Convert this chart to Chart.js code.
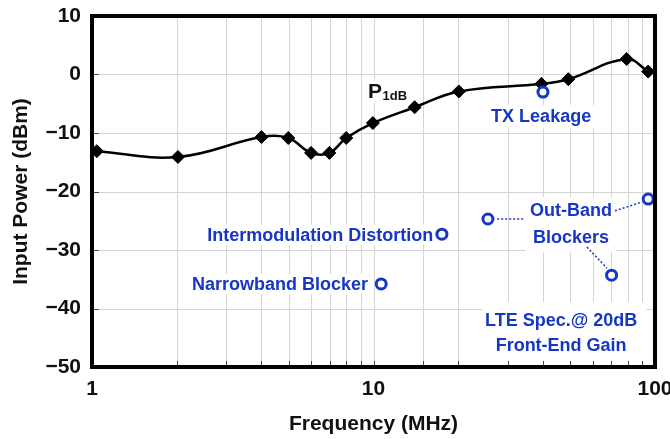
<!DOCTYPE html>
<html>
<head>
<meta charset="utf-8">
<script src="https://cdn.jsdelivr.net/npm/chart.js@4/dist/chart.umd.min.js"></script>
<style>
  html, body { margin: 0; padding: 0; background: #fff; }
  #wrap { width: 670px; height: 439px; }
</style>
</head>
<body>
<div id="wrap"><canvas id="chart" width="670" height="439"></canvas></div>
<script>
// Measured P1dB: frequency (MHz) and input power (dBm)
const p1dbFreq  = [1.04, 2.02, 4.0, 4.98, 6.0, 6.97, 8.0, 9.95, 14.0, 20.1, 39.5, 49.2, 79.3, 94.6];
const p1dbPower = [-13.1, -14.1, -10.7, -10.85, -13.4, -13.4, -10.85, -8.3, -5.6, -2.9, -1.6, -0.8, 2.65, 0.5];

// LTE requirements referred to the input (20 dB front-end gain)
const specNames = ['TX Leakage', 'Intermodulation Distortion', 'Narrowband Blocker',
                   'Out-Band Blocker A', 'Out-Band Blocker B', 'Out-Band Blocker C'];
const specFreq  = [40, 17.5, 10.65, 25.5, 94.6, 70.1];
const specPower = [-3.0, -27.3, -35.8, -24.7, -21.3, -34.3];

// Axis ticks
const xTickLabels = ['1', '10', '100'];
const yTickValues = [-50, -40, -30, -20, -10, 0, 10];

const BLUE = '#1636c4';
const FONT = '"Liberation Sans", Arial, Helvetica, sans-serif';
const GRID = '#d4d4d4';

// Text callouts, anchored in data units (frequency, power)
const callouts = [
  { lines: ['TX Leakage'], x: 39.4, y: -7.1, align: 'center', gap: 0, pad: [4, 4, 11, 12] },
  { lines: ['Intermodulation Distortion'], x: 16.3, y: -27.4, align: 'right', gap: 0, pad: [3, 3, 10, 10] },
  { lines: ['Narrowband Blocker'], x: 9.56, y: -35.8, align: 'right', gap: 0, pad: [3, 3, 10, 10] },
  { lines: ['Out-Band', 'Blockers'], x: 50.3, y: -23.2, align: 'center', gap: 27, pad: [4, 4, 13, 15] },
  { lines: ['LTE Spec.@ 20dB', 'Front-End Gain'], x: 46.4, y: -41.97, align: 'center', gap: 25, pad: [3, 9, 18, 19] }
];

// Dotted leaders from the out-band blocker points to their label
const leaders = [
  [[27.5, -24.7], [34.0, -24.7]],
  [[72.1, -23.3], [89.9, -21.8]],
  [[57.3, -29.5], [67.5, -33.1]]
];

// Plot frame taken from the scales themselves
function plotBox(chart) {
  const xs = chart.scales.x, ys = chart.scales.y;
  return {
    left: xs.getPixelForValue(xs.min),
    right: xs.getPixelForValue(xs.max),
    top: ys.getPixelForValue(ys.max),
    bottom: ys.getPixelForValue(ys.min)
  };
}

const annotationPlugin = {
  id: 'annotations',
  beforeDatasetsDraw(chart) {
    const { ctx } = chart;
    const xs = chart.scales.x, ys = chart.scales.y;
    const b = plotBox(chart);
    ctx.save();

    // grid
    ctx.strokeStyle = GRID;
    ctx.lineWidth = 1;
    xs.ticks.forEach(t => {
      const p = Math.round(xs.getPixelForValue(t.value)) + 0.5;
      ctx.beginPath(); ctx.moveTo(p, b.top); ctx.lineTo(p, b.bottom); ctx.stroke();
    });
    yTickValues.forEach(v => {
      const p = Math.round(ys.getPixelForValue(v)) + 0.5;
      ctx.beginPath(); ctx.moveTo(b.left, p); ctx.lineTo(b.right, p); ctx.stroke();
    });

    // callout texts on white
    ctx.font = 'bold 18px ' + FONT;
    ctx.textBaseline = 'middle';
    callouts.forEach(c => {
      const px = xs.getPixelForValue(c.x);
      const py = ys.getPixelForValue(c.y);
      const w = Math.max(...c.lines.map(t => ctx.measureText(t).width));
      let left;
      if (c.align === 'center') left = px - w / 2;
      else if (c.align === 'right') left = px - w;
      else left = px;
      const [pl, pr, pt, pb] = c.pad;
      const top = py - pt;
      const bottom = py + c.gap * (c.lines.length - 1) + pb;
      ctx.fillStyle = '#fff';
      ctx.fillRect(left - pl, top, w + pl + pr, bottom - top);
      ctx.fillStyle = BLUE;
      ctx.textAlign = c.align;
      c.lines.forEach((t, i) => ctx.fillText(t, px, py + 1 + i * c.gap));
    });

    // dotted leaders
    ctx.strokeStyle = BLUE;
    ctx.lineWidth = 1.5;
    ctx.setLineDash([2, 2]);
    leaders.forEach(([p, q]) => {
      ctx.beginPath();
      ctx.moveTo(xs.getPixelForValue(p[0]), ys.getPixelForValue(p[1]));
      ctx.lineTo(xs.getPixelForValue(q[0]), ys.getPixelForValue(q[1]));
      ctx.stroke();
    });
    ctx.setLineDash([]);

    // P1dB label with subscript
    const lx = xs.getPixelForValue(9.56);
    const ly = ys.getPixelForValue(-4.0);
    ctx.textAlign = 'left';
    ctx.textBaseline = 'alphabetic';
    ctx.font = 'bold 21px ' + FONT;
    const pw = ctx.measureText('P').width;
    ctx.font = 'bold 13px ' + FONT;
    const sw = ctx.measureText('1dB').width;
    ctx.fillStyle = '#fff';
    ctx.fillRect(lx - 2, ly - 17, pw + sw + 5, 22);
    ctx.fillStyle = '#111';
    ctx.font = 'bold 21px ' + FONT;
    ctx.fillText('P', lx, ly);
    ctx.font = 'bold 13px ' + FONT;
    ctx.fillText('1dB', lx + pw + 0.5, ly + 2);
    ctx.restore();
  },
  afterDraw(chart) {
    const { ctx } = chart;
    const xs = chart.scales.x, ys = chart.scales.y;
    const b = plotBox(chart);
    ctx.save();
    // short inward ticks
    ctx.strokeStyle = '#444';
    ctx.lineWidth = 1;
    xs.ticks.forEach(t => {
      const p = Math.round(xs.getPixelForValue(t.value)) + 0.5;
      if (p < b.left + 4 || p > b.right - 4) return;
      ctx.beginPath(); ctx.moveTo(p, b.bottom - 2); ctx.lineTo(p, b.bottom - 6); ctx.stroke();
    });
    yTickValues.forEach(v => {
      const p = Math.round(ys.getPixelForValue(v)) + 0.5;
      if (p < b.top + 4 || p > b.bottom - 4) return;
      ctx.beginPath(); ctx.moveTo(b.left + 2, p); ctx.lineTo(b.left + 7, p); ctx.stroke();
    });
    // heavy frame
    ctx.strokeStyle = '#000';
    ctx.lineWidth = 4;
    ctx.strokeRect(b.left, b.top, b.right - b.left, b.bottom - b.top);
    ctx.restore();
  }
};

new Chart(document.getElementById('chart'), {
  type: 'line',
  data: {
    datasets: [
      {
        label: 'LTE spec',
        data: specFreq.map((f, i) => ({ x: f, y: specPower[i], name: specNames[i] })),
        showLine: false,
        pointStyle: 'circle',
        pointRadius: 5,
        pointBorderWidth: 3,
        pointBorderColor: BLUE,
        pointBackgroundColor: '#fff',
        order: 0
      },
      {
        label: 'P1dB',
        data: p1dbFreq.map((f, i) => ({ x: f, y: p1dbPower[i] })),
        borderColor: '#000',
        borderWidth: 2.5,
        tension: 0.4,
        pointStyle: 'rectRot',
        pointRadius: 6.5,
        pointBorderWidth: 1,
        pointBorderColor: '#000',
        pointBackgroundColor: '#000',
        order: 1
      }
    ]
  },
  options: {
    responsive: false,
    animation: false,
    devicePixelRatio: 1,
    layout: { padding: { left: 0, right: 15, top: 16, bottom: 0 } },
    plugins: { legend: { display: false }, tooltip: { enabled: false } },
    scales: {
      x: {
        type: 'logarithmic',
        min: 1,
        max: 100,
        afterFit(scale) { scale.height = 72; scale.paddingLeft = 0; scale.paddingRight = 0; },
        grid: { display: false, drawTicks: false },
        border: { display: false },
        ticks: {
          autoSkip: false,
          maxRotation: 0,
          padding: 10,
          color: '#111',
          font: { family: FONT, size: 21, weight: 'bold' },
          callback(v) {
            const s = String(Math.round(v));
            return xTickLabels.includes(s) ? s : '';
          }
        },
        title: {
          display: true,
          text: 'Frequency (MHz)',
          color: '#111',
          font: { family: FONT, size: 21, weight: 'bold' },
          padding: { top: 0, bottom: 2 }
        }
      },
      y: {
        min: -50,
        max: 10,
        afterFit(scale) { scale.width = 92; scale.paddingTop = 0; scale.paddingBottom = 0; },
        afterBuildTicks(scale) { scale.ticks = yTickValues.map(v => ({ value: v })); },
        grid: { display: false, drawTicks: false },
        border: { display: false },
        ticks: {
          padding: 11,
          color: '#111',
          font: { family: FONT, size: 21, weight: 'bold' },
          callback(v) { return String(v).replace('-', '\u2212'); }
        },
        title: {
          display: true,
          text: 'Input Power (dBm)',
          color: '#111',
          font: { family: FONT, size: 21, weight: 'bold' },
          padding: { top: 9, bottom: 0 }
        }
      }
    }
  },
  plugins: [annotationPlugin]
});
</script>
</body>
</html>
